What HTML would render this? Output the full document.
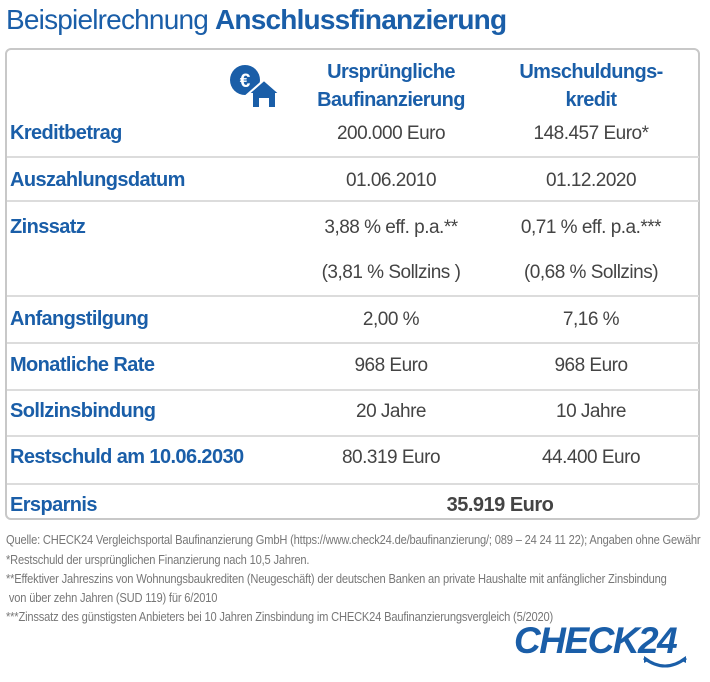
<!DOCTYPE html>
<html><head><meta charset="utf-8"><style>
body{margin:0;width:710px;height:682px;background:#fff;position:relative;overflow:hidden;font-family:"Liberation Sans",sans-serif}
.a{position:absolute;white-space:nowrap}
.t{left:6px;top:4px;font-size:28px;color:#1a5ea8;letter-spacing:-0.8px}
.box{position:absolute;left:5px;top:48px;width:695px;height:472px;border:2px solid #c8c8c8;border-radius:6px;box-sizing:border-box}
.sep{position:absolute;left:7px;width:692px;height:2px;background:#dcdcdc}
.l{left:10px;font-size:20px;font-weight:bold;color:#1a5ea8;letter-spacing:-0.6px}
.v{font-size:19px;color:#444;transform:translateX(-50%);letter-spacing:-0.5px}
.c1{left:391px}.c2{left:591px}
.h{font-size:20px;font-weight:bold;color:#1a5ea8;text-align:center;transform:translateX(-50%);line-height:28px;letter-spacing:-0.6px}
.f{left:6px;font-size:12.5px;color:#777;transform:scaleX(0.89);transform-origin:left;letter-spacing:-0.2px}
</style></head><body>
<div class="a t">Beispielrechnung <b>Anschlussfinanzierung</b></div>
<div class="box"></div>
<div class="sep" style="top:156px"></div>
<div class="sep" style="top:200px"></div>
<div class="sep" style="top:295px"></div>
<div class="sep" style="top:342px"></div>
<div class="sep" style="top:389px"></div>
<div class="sep" style="top:435px"></div>
<div class="sep" style="top:483px"></div>
<svg class="a" style="left:228px;top:64px" width="56" height="46" viewBox="0 0 56 46">
<circle cx="17" cy="16" r="15" fill="#1a5ea8"/>
<text x="17" y="23" font-size="19" font-weight="bold" fill="#fff" text-anchor="middle" font-family="Liberation Sans">€</text>
<path d="M20 30 L36 16 L52 30 L48 30 L48 44 L40 44 L40 35 L32 35 L32 44 L24 44 L24 30 Z" fill="#1a5ea8" stroke="#fff" stroke-width="2"/>
</svg>
<div class="a h c1" style="top:58px">Ursprüngliche<br>Baufinanzierung</div>
<div class="a h c2" style="top:58px">Umschuldungs-<br>kredit</div>
<div class="a l" style="top:122px">Kreditbetrag</div>
<div class="a v c1" style="top:123px">200.000 Euro</div>
<div class="a v c2" style="top:123px">148.457 Euro*</div>
<div class="a l" style="top:169px">Auszahlungsdatum</div>
<div class="a v c1" style="top:170px">01.06.2010</div>
<div class="a v c2" style="top:170px">01.12.2020</div>
<div class="a l" style="top:216px">Zinssatz</div>
<div class="a v c1" style="top:217px">3,88 % eff. p.a.**</div>
<div class="a v c2" style="top:217px">0,71 % eff. p.a.***</div>
<div class="a v c1" style="top:262px">(3,81 % Sollzins )</div>
<div class="a v c2" style="top:262px">(0,68 % Sollzins)</div>
<div class="a l" style="top:308px">Anfangstilgung</div>
<div class="a v c1" style="top:309px">2,00 %</div>
<div class="a v c2" style="top:309px">7,16 %</div>
<div class="a l" style="top:354px">Monatliche Rate</div>
<div class="a v c1" style="top:355px">968 Euro</div>
<div class="a v c2" style="top:355px">968 Euro</div>
<div class="a l" style="top:400px">Sollzinsbindung</div>
<div class="a v c1" style="top:401px">20 Jahre</div>
<div class="a v c2" style="top:401px">10 Jahre</div>
<div class="a l" style="top:446px">Restschuld am 10.06.2030</div>
<div class="a v c1" style="top:447px">80.319 Euro</div>
<div class="a v c2" style="top:447px">44.400 Euro</div>
<div class="a l" style="top:494px">Ersparnis</div>
<div class="a v" style="left:500px;top:494px;font-weight:bold;font-size:20px">35.919 Euro</div>
<div class="a f" style="top:533px">Quelle: CHECK24 Vergleichsportal Baufinanzierung GmbH (https://www.check24.de/baufinanzierung/; 089 – 24 24 11 22); Angaben ohne Gewähr</div>
<div class="a f" style="top:553px">*Restschuld der ursprünglichen Finanzierung nach 10,5 Jahren.</div>
<div class="a f" style="top:572px">**Effektiver Jahreszins von Wohnungsbaukrediten (Neugeschäft) der deutschen Banken an private Haushalte mit anfänglicher Zinsbindung</div>
<div class="a f" style="top:591px">&nbsp;von über zehn Jahren (SUD 119) für 6/2010</div>
<div class="a f" style="top:610px">***Zinssatz des günstigsten Anbieters bei 10 Jahren Zinsbindung im CHECK24 Baufinanzierungsvergleich (5/2020)</div>
<div class="a" style="left:514px;top:620px;font-size:37px;font-weight:bold;font-style:italic;color:#1a5ea8;letter-spacing:-1.5px">CHECK24</div>
<svg class="a" style="left:640px;top:654px" width="50" height="20"><path d="M4 4 Q25 20 46 4" stroke="#1a5ea8" stroke-width="3" fill="none"/><path d="M4 2 L4 9 L10 6 Z M46 2 L46 9 L40 6 Z" fill="#1a5ea8"/></svg>
</body></html>
